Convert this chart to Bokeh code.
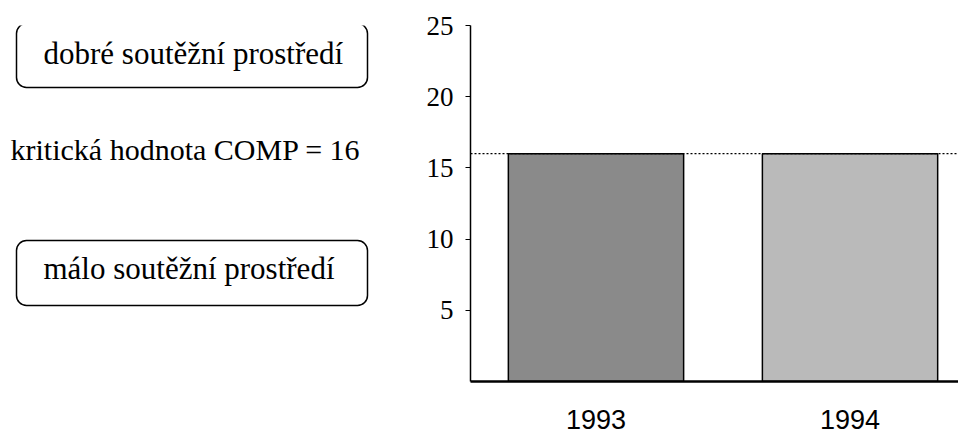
from bokeh.plotting import figure
from bokeh.layouts import row
from bokeh.models import Range1d, FixedTicker, Span, BoxAnnotation
from bokeh.core.properties import value
from bokeh.embed import file_html
from bokeh.resources import INLINE

# ---- data ----
years = ["1993", "1994"]
comp = [16.0, 16.0]
bar_colors = ["#8a8a8a", "#bababa"]
critical = 16
y_ticks = [5, 10, 15, 20, 25]
box_texts = ["dobré soutěžní prostředí", "málo soutěžní prostředí"]
crit_text = "kritická hodnota COMP = 16"

SERIF = value("Liberation Serif")

TOP, BOTTOM = 25, 52  # shared borders so both frames line up
H = 433

# ---- left panel with text annotations (page-pixel coordinates) ----
left = figure(width=410, height=H, x_range=Range1d(0, 410), y_range=Range1d(H - BOTTOM, TOP),
              output_backend="svg", toolbar_location=None,
              min_border_left=0, min_border_right=0,
              min_border_top=TOP, min_border_bottom=BOTTOM,
              x_axis_location=None, y_axis_location=None)
left.grid.visible = False
left.outline_line_color = None

for top, bottom in [(23, 87), (240, 305)]:
    left.add_layout(BoxAnnotation(left=16, right=367, top=top, bottom=bottom,
                                  border_radius=10, fill_alpha=0, line_alpha=1,
                                  line_color="black", line_width=1.5))

left.text(x=[43, 43], y=[53, 268], text=box_texts,
          text_font=SERIF, text_font_size="31px", text_color="black",
          text_baseline="alphabetic", text_align="left")
left.text(x=[10], y=[149], text=[crit_text],
          text_font=SERIF, text_font_size="30px", text_color="black",
          text_baseline="alphabetic", text_align="left")

# ---- right panel: bar chart ----
xs = list(range(len(years)))
p = figure(width=548, height=H, x_range=Range1d(-0.494, 1.427), y_range=Range1d(0, 25),
           output_backend="svg", toolbar_location=None,
           min_border_left=60, min_border_right=0,
           min_border_top=TOP, min_border_bottom=BOTTOM)
p.grid.visible = False
p.outline_line_color = None

p.vbar(x=xs, top=comp, bottom=0, width=0.69, fill_color=bar_colors,
       line_color="black", line_width=1.5)

p.add_layout(Span(location=critical, dimension="width", line_color="black",
                  line_width=1.2, line_dash="2 2"))

# y axis
p.yaxis.ticker = FixedTicker(ticks=y_ticks)
p.yaxis.major_tick_out = 5
p.yaxis.major_tick_in = 0
p.yaxis.minor_tick_out = 0
p.yaxis.minor_tick_in = 0
p.yaxis.major_label_standoff = 12
p.yaxis.major_label_text_font = "Liberation Serif"
p.yaxis.major_label_text_font_size = "27px"
p.yaxis.major_label_text_color = "black"
p.yaxis.axis_line_width = 1.5
p.yaxis.axis_line_color = "black"
p.yaxis.major_tick_line_color = "black"

# x axis
p.xaxis.ticker = FixedTicker(ticks=xs)
p.xaxis.major_label_overrides = {i: y for i, y in enumerate(years)}
p.xaxis.major_tick_out = 0
p.xaxis.major_tick_in = 0
p.xaxis.minor_tick_out = 0
p.xaxis.minor_tick_in = 0
p.xaxis.major_label_standoff = 28
p.xaxis.major_label_text_font = "Liberation Sans"
p.xaxis.major_label_text_font_size = "27px"
p.xaxis.major_label_text_line_height = 0.9
p.xaxis.major_label_text_color = "black"
p.xaxis.axis_line_width = 2.5
p.xaxis.axis_line_color = "black"

layout = row(left, p)
open("out.html", "w").write(file_html(layout, INLINE))
